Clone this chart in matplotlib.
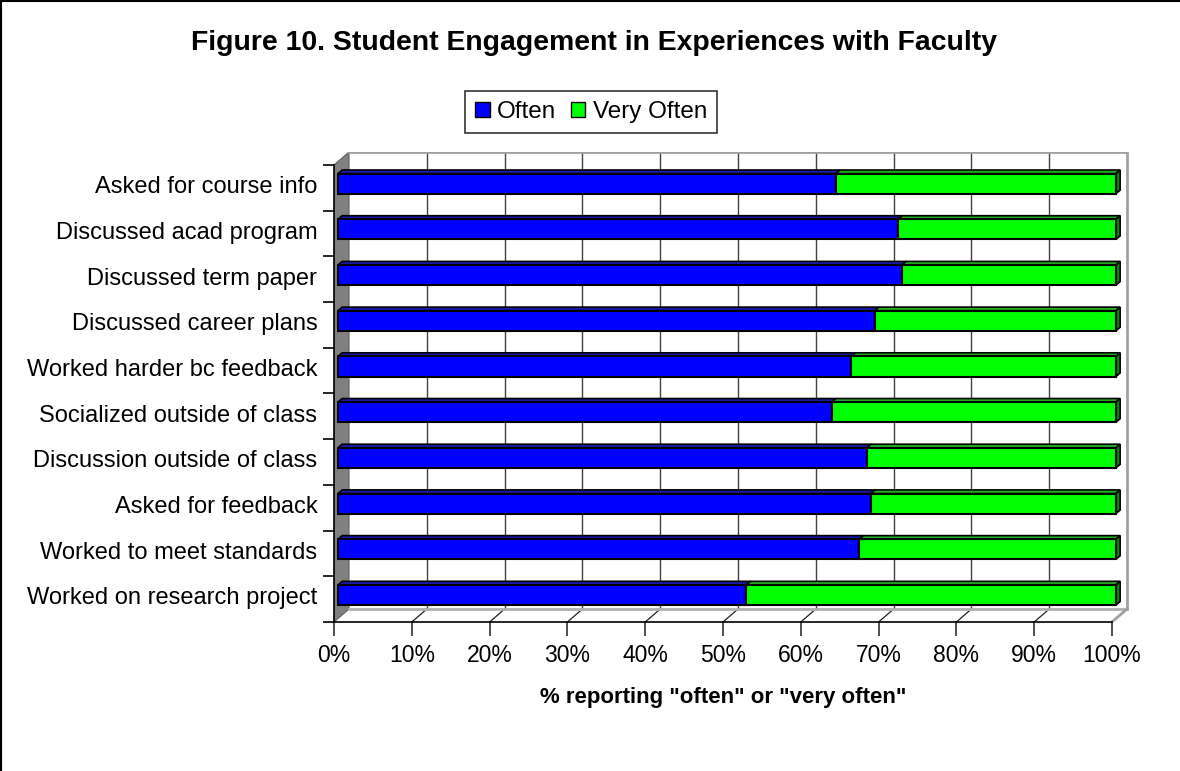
import matplotlib
matplotlib.use("Agg")
import matplotlib.pyplot as plt
from matplotlib.patches import Polygon, Patch, Rectangle

plt.rcParams['font.family'] = ['Liberation Sans', 'DejaVu Sans']

categories = ["Asked for course info", "Discussed acad program", "Discussed term paper",
              "Discussed career plans", "Worked harder bc feedback", "Socialized outside of class",
              "Discussion outside of class", "Asked for feedback", "Worked to meet standards",
              "Worked on research project"]
often = [64, 72, 72.5, 69, 66, 63.5, 68, 68.5, 67, 52.5]
very_often = [36, 28, 27.5, 31, 34, 36.5, 32, 31.5, 33, 47.5]
xticks = [0, 10, 20, 30, 40, 50, 60, 70, 80, 90, 100]
xticklabels = [f"{t}%" for t in xticks]

W, H = 1180, 771
# 3d depth of the walls (in data units)
DX = 1.93
DY = 0.284
# bar placement inside the depth
OX, OY = 0.5, 0.09
BDX, BDY = 0.55, 0.08
BH = 0.44

fig = plt.figure(figsize=(W / 100, H / 100), dpi=100)
x_right = 100 + DX + 0.3
px_per = 778 / 100
left_px, bottom_px, top_px = 334, 622, 152
ax = fig.add_axes([left_px / W, (H - bottom_px) / H,
                   x_right * px_per / W, (bottom_px - top_px) / H])
ax.set_xlim(0, x_right)
ax.set_ylim(9.5, -0.5 - DY)
ax.set_facecolor('none')

# side wall
ax.add_patch(Polygon([(0, 9.5), (DX, 9.5 - DY), (DX, -0.5 - DY), (0, -0.5)],
                     closed=True, facecolor='#808080', edgecolor='#606060', lw=0.8, zorder=1))
# back wall gridlines and floor
for t in xticks[1:-1]:
    ax.plot([t + DX, t + DX], [9.5 - DY, -0.5 - DY], color='#404040', lw=1, zorder=1)
    ax.plot([t, t + DX], [9.5, 9.5 - DY], color='#202020', lw=0.9, zorder=1)
ax.plot([DX, 100 + DX, 100 + DX], [-0.5 - DY, -0.5 - DY, 9.5 - DY], color='#a0a0a0', lw=2, zorder=1)
ax.plot([DX, 100 + DX], [9.5 - DY, 9.5 - DY], color='#b0b0b0', lw=2, zorder=1)
ax.plot([100, 100 + DX], [9.5, 9.5 - DY], color='#a0a0a0', lw=2, zorder=1)

# bars
ys = [i - OY for i in range(len(categories))]
ax.barh(ys, often, left=OX, height=BH, color='#0000ff', edgecolor='black', lw=1.5, zorder=4,
        label='Often')
ax.barh(ys, very_often, left=[OX + o for o in often], height=BH, color='#00ff00',
        edgecolor='black', lw=1.5, zorder=4, label='Very Often')
for y, o, v in zip(ys, often, very_often):
    top = y - BH / 2
    ax.add_patch(Polygon([(OX, top), (OX + o, top), (OX + o + BDX, top - BDY), (OX + BDX, top - BDY)],
                         closed=True, facecolor='#1a1ab0', edgecolor='black', lw=1.2, zorder=3))
    ax.add_patch(Polygon([(OX + o, top), (OX + o + v, top), (OX + o + v + BDX, top - BDY),
                          (OX + o + BDX, top - BDY)],
                         closed=True, facecolor='#20b020', edgecolor='black', lw=1.2, zorder=3))
    end = OX + o + v
    ax.add_patch(Polygon([(end, top), (end + BDX, top - BDY), (end + BDX, top - BDY + BH), (end, top + BH)],
                         closed=True, facecolor='#008a00', edgecolor='black', lw=1.2, zorder=3))

for s in ['top', 'right']:
    ax.spines[s].set_visible(False)
ax.spines['left'].set_bounds(-0.5, 9.5)
ax.spines['bottom'].set_bounds(0, 100)
ax.spines['left'].set_linewidth(1.2)
ax.spines['bottom'].set_linewidth(1.2)

ax.set_xticks(xticks)
ax.set_xticklabels(xticklabels, fontsize=16.5)
ax.tick_params(axis='x', length=10, width=1.2, color='#303030', pad=6)
ax.set_yticks([i - 0.07 for i in range(len(categories))])
ax.set_yticklabels(categories, fontsize=17)
ax.tick_params(axis='y', which='major', length=0, pad=12)
ax.set_yticks([i - 0.5 for i in range(len(categories) + 1)], minor=True)
ax.tick_params(axis='y', which='minor', length=8, width=1.2)

fig.text(594 / W, 1 - 43 / H, "Figure 10. Student Engagement in Experiences with Faculty",
         fontsize=20.4, fontweight='bold', ha='center', va='center')
fig.text(723 / W, 1 - 698 / H, '% reporting "often" or "very often"',
         fontsize=16, fontweight='bold', ha='center', va='center')

handles = [Patch(facecolor='#0000ff', edgecolor='black', label='Often'),
           Patch(facecolor='#00ff00', edgecolor='black', label='Very Often')]
leg = fig.legend(handles=handles, loc='center', bbox_to_anchor=(591 / W, 1 - 112 / H), ncol=2,
                 fontsize=17.5, frameon=True, fancybox=False, edgecolor='black',
                 handlelength=0.6, handleheight=0.6, handletextpad=0.3, columnspacing=0.6,
                 borderpad=0.4, borderaxespad=0)
leg.get_frame().set_linewidth(1.2)

fig.patches.append(Rectangle((1 / W, -0.05), 1.1, 1.05 - 1.5 / H, transform=fig.transFigure,
                             fill=False, edgecolor='black', lw=1.5))

fig.savefig("out.png", dpi=100)
